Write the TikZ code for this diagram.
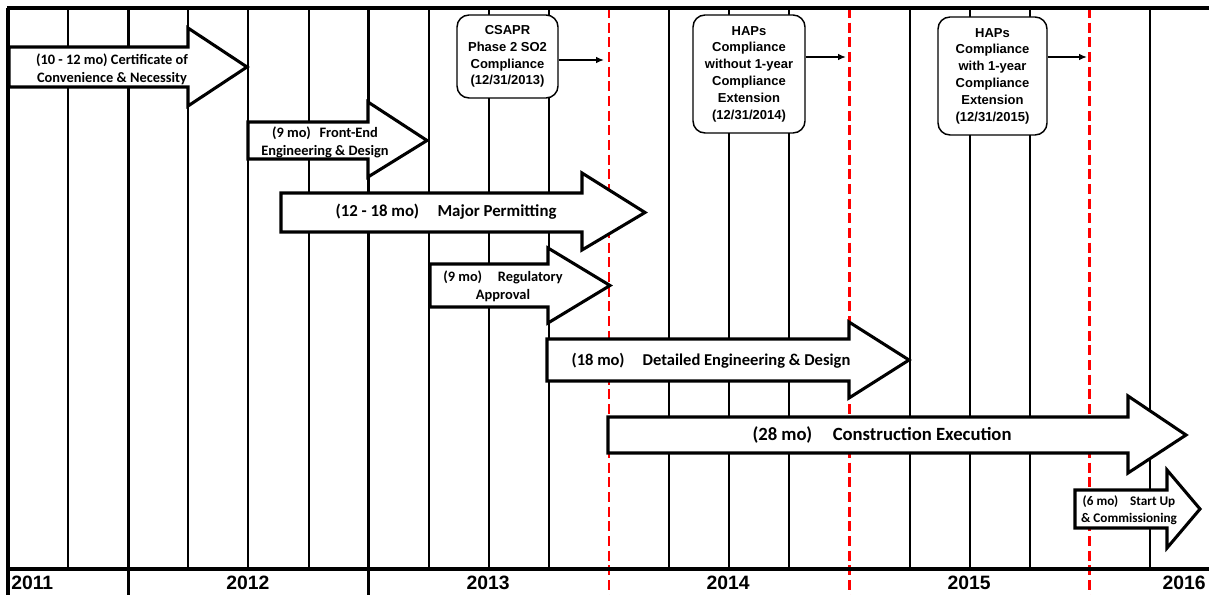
\documentclass[tikz,border=0pt]{standalone}
\usepackage{fontspec}
\setmainfont{Liberation Sans}
\newfontfamily\calfont{Carlito}
\usetikzlibrary{arrows.meta}
\newcommand\blockarrow[7]{% x1, xhead, ytop, ybot, headtop, headbot, tip
  \draw[barr] (#1,#3) -- (#2,#3) -- (#2,#5) -- (#7,{(#3+#4)/2}) -- (#2,#6) -- (#2,#4) -- (#1,#4) -- cycle;}
\begin{document}
\begin{tikzpicture}[x=0.75pt,y=-0.75pt,
  gridl/.style={line width=1.5pt},
  ydiv/.style={line width=2.4pt},
  redl/.style={red, line width=2.2pt, dash pattern=on 7.5pt off 3.5pt},
  frame/.style={line width=3pt},
  barr/.style={draw=black, fill=white, line width=2.3pt, line join=miter},
  atext/.style={font=\calfont\bfseries\fontsize{10.8}{13.5}\selectfont, align=center, inner sep=0pt},
  mbox/.style={draw, fill=white, rounded corners=9pt, line width=1.1pt, font=\bfseries\fontsize{9.75}{12.6}\selectfont, align=center, inner sep=0pt},
  conn/.style={line width=1.1pt, -{Latex[length=6pt,width=5pt]}},
  year/.style={font=\bfseries\fontsize{14.5}{16}\selectfont, inner sep=0pt}]

\fill[white] (0,0) rectangle (1209,595);
\useasboundingbox (0,0) rectangle (1209,595);

% grid lines
\foreach \i in {1,3,4,5,7,8,9,11,12,13,15,16,17,19}
  \draw[gridl] ({8+60.1*\i},8) -- ({8+60.1*\i},569);
\foreach \i in {0,2,6}
  \draw[ydiv] ({8+60.1*\i},8) -- ({8+60.1*\i},595);
\foreach \i in {10,14,18}
  \draw[redl] ({8+60.1*\i},8) -- ({8+60.1*\i},595);
\draw[frame] (6.8,8) -- (1209,8);
\draw[frame] (6.8,569) -- (1209,569);

% block arrows
\blockarrow{9}{188}{47}{87}{28}{106}{247}
\node[atext] (t1) at (112,69) {(10 - 12 mo) Certificate of\\Convenience \& Necessity};

\blockarrow{248}{368}{122}{159}{102}{177}{427}
\node[atext] (t2) at (325,142) {(9 mo)\hspace{0.6em}Front-End\\Engineering \& Design};

\blockarrow{281}{582}{193}{232}{173}{250}{645}
\node[atext, font=\calfont\bfseries\fontsize{12.6}{15}\selectfont] (t3) at (446,212) {(12 - 18 mo)\hspace{1.1em}Major Permitting};

\blockarrow{430}{548}{264}{307}{248}{323}{610}
\node[atext] (t4) at (503,286) {(9 mo)\hspace{1.1em}Regulatory\\Approval};

\blockarrow{547}{849}{339}{381}{322}{398}{909}
\node[atext, font=\calfont\bfseries\fontsize{12.4}{15}\selectfont] (t5) at (711,361) {(18 mo)\hspace{1.1em}Detailed Engineering \& Design};

\blockarrow{608}{1128}{417}{453}{396}{473}{1186}
\node[atext, font=\calfont\bfseries\fontsize{14}{16}\selectfont] (t6) at (882,435) {(28 mo)\hspace{1.1em}Construction Execution};

\blockarrow{1075}{1167}{490}{528}{470}{548}{1200}
\node[atext, font=\calfont\bfseries\fontsize{9.9}{12.8}\selectfont] (t7) at (1129,510) {(6 mo)\hspace{0.9em}Start Up\\\& Commissioning};

% milestone boxes
\node[mbox, minimum width=75.75pt, minimum height=62.25pt] (b1) at (507.5,56.5)
  {CSAPR\\Phase 2 SO2\\Compliance\\(12/31/2013)};
\coordinate (e1) at (604,60);
\draw[conn] (b1.east |- e1) -- (e1);

\node[mbox, minimum width=84pt, minimum height=88.5pt] (b2) at (749,74)
  {HAPs\\Compliance\\without 1-year\\Compliance\\Extension\\(12/31/2014)};
\coordinate (e2) at (846,57);
\draw[conn] (b2.east |- e2) -- (e2);

\node[mbox, minimum width=81.75pt, minimum height=88.5pt] (b3) at (992.5,76)
  {HAPs\\Compliance\\with 1-year\\Compliance\\Extension\\(12/31/2015)};
\coordinate (e3) at (1087,57);
\draw[conn] (b3.east |- e3) -- (e3);

% years
\node[year, anchor=west] (y1) at (11,583) {2011};
\node[year] (y2) at (248,583) {2012};
\node[year] (y3) at (488,583) {2013};
\node[year] (y4) at (728,583) {2014};
\node[year] (y5) at (969,583) {2015};
\node[year, anchor=east] (y6) at (1206,583) {2016};
\end{tikzpicture}
\end{document}
